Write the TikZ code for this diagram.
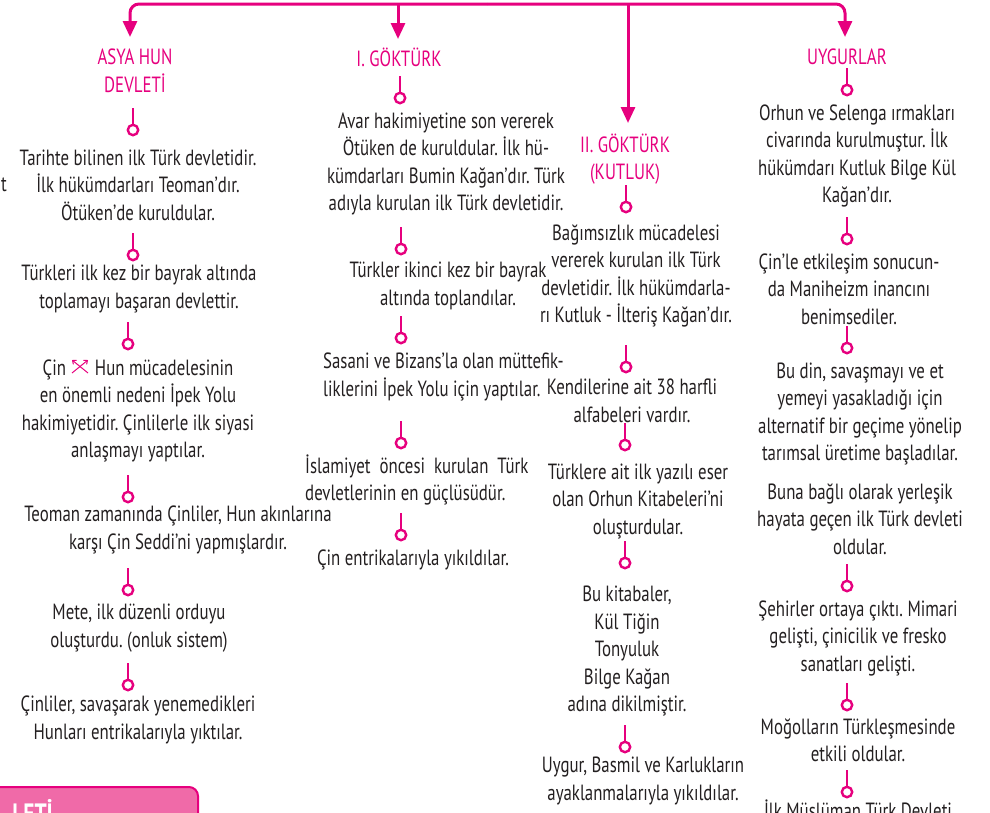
\documentclass[tikz,border=0pt]{standalone}
\usepackage{fontspec}
\setmainfont[FakeStretch=0.765]{PT Sans}
\usetikzlibrary{arrows.meta}
\definecolor{mag}{RGB}{230,0,126}
\definecolor{boxfill}{RGB}{240,106,168}
\definecolor{txt}{RGB}{35,31,32}
\newcommand\bodyfont{\fontsize{22}{27.5}\selectfont\frenchspacing}
\tikzset{
  body/.style={text=txt, align=center, font=\bodyfont, inner sep=0pt},
  bodyl/.style={text=txt, align=left, font=\bodyfont, inner sep=0pt},
  head/.style={text=mag, align=center, font=\bodyfont, inner sep=0pt},
  stem/.style={draw=mag, line width=2.6pt},
  bulb/.style={draw=mag, fill=white, line width=2.4pt},
  arr/.style={draw=mag, line width=3pt, -{Triangle[width=14pt,length=16pt]}},
  sym/.style={draw=mag, line width=1pt, -{Straight Barb[length=3pt,width=5pt]}},
  lol/.pic={\draw[stem] (0,-22) -- (0,-5); \draw[bulb] (0,0) circle[radius=5.2pt];}
}
\begin{document}
\begin{tikzpicture}[x=1pt,y=-1pt]
\useasboundingbox (0,0) rectangle (990,812);
\clip (0,0) rectangle (990,812);

% top bar and arrows
\coordinate (bar) at (487,4);
\coordinate (tip1) at (130,37);
\coordinate (tip2) at (398,39);
\coordinate (tip3) at (628,123);
\coordinate (tip4) at (845,37);
\draw[arr, rounded corners=9pt] (bar) -| (tip1);
\draw[arr, rounded corners=9pt] (bar) -| (tip4);
\draw[arr] (bar -| tip2) -- (tip2);
\draw[arr] (bar -| tip3) -- (tip3);

% headers
\node[head] (h1) at (135,71) {ASYA HUN\\DEVLETİ};
\node[head] (h2) at (399,57) {I. GÖKTÜRK};
\node[head] (h3) at (625,159) {II. GÖKTÜRK\\(KUTLUK)};
\node[head] (h4) at (847,57) {UYGURLAR};

% column 1
\node[body] (t) at (4,185) {t};
\node[body] (a1) at (138,185) {Tarihte bilinen ilk Türk devletidir.\\İlk hükümdarları Teoman’dır.\\Ötüken’de kuruldular.};
\node[body] (a2) at (139,289) {Türkleri ilk kez bir bayrak altında\\toplamayı başaran devlettir.};
\node[body] (a3) at (138,411) {Çin\hspace{29pt}Hun mücadelesinin\\en önemli nedeni İpek Yolu\\hakimiyetidir. Çinlilerle ilk siyasi\\anlaşmayı yaptılar.};
\node[body] (a4) at (178,530) {Teoman zamanında Çinliler, Hun akınlarına\\karşı Çin Seddi’ni yapmışlardır.};
\node[body] (a5) at (139,628) {Mete, ilk düzenli orduyu\\oluşturdu. (onluk sistem)};
\node[body] (a6) at (138,720) {Çinliler, savaşarak yenemedikleri\\Hunları entrikalarıyla yıktılar.};
\draw[sym] (72,373) -- (88,360);
\draw[sym] (88,373) -- (72,360);
\pic at (133,130) {lol};
\pic at (133,255) {lol};
\pic at (128,344) {lol};
\pic at (128,497) {lol};
\pic at (128,590) {lol};
\pic at (128,685) {lol};

% column 2
\node[body] (b1) at (446,164) {Avar hakimiyetine son vererek\\Ötüken de kuruldular. İlk hü-\\kümdarları Bumin Kağan’dır. Türk\\adıyla kurulan ilk Türk devletidir.};
\node[body] (b2) at (448,286) {Türkler ikinci kez bir bayrak\\altında toplandılar.};
\node[bodyl, anchor=west] (b3) at (323,377) {Sasani ve Bizans’la olan müttefik-\\liklerini İpek Yolu için yaptılar.};
\node[bodyl, anchor=west] (b4) at (305,480) {İslamiyet\ \ öncesi\ \ kurulan\ \ Türk\\devletlerinin en güçlüsüdür.};
\node[body] (b5) at (413,560) {Çin entrikalarıyla yıkıldılar.};
\pic at (400,98) {lol};
\pic at (401,249) {lol};
\pic at (401,338) {lol};
\pic at (401,443) {lol};
\pic at (401,535) {lol};

% column 3
\node[body] (c1) at (636,276) {Bağımsızlık mücadelesi\\vererek kurulan ilk Türk\\devletidir. İlk hükümdarla-\\rı Kutluk - İlteriş Kağan’dır.};
\node[body] (c2) at (632,401) {Kendilerine ait 38 harfli\\alfabeleri vardır.};
\node[body] (c3) at (638,501) {Türklere ait ilk yazılı eser\\olan Orhun Kitabeleri’ni\\oluşturdular.};
\node[body] (c4) at (627,651) {Bu kitabaler,\\Kül Tiğin\\Tonyuluk\\Bilge Kağan\\adına dikilmiştir.};
\node[body] (c5) at (643,781) {Uygur, Basmil ve Karlukların\\ayaklanmalarıyla yıkıldılar.};
\pic at (626,207) {lol};
\pic at (626,367) {lol};
\pic at (625,445) {lol};
\pic at (625,563) {lol};
\pic at (625,747) {lol};

% column 4
\node[body] (d1) at (857,156) {Orhun ve Selenga ırmakları\\civarında kurulmuştur. İlk\\hükümdarı Kutluk Bilge Kül\\Kağan’dır.};
\node[body] (d2) at (849,289) {Çin’le etkileşim sonucun-\\da Maniheizm inancını\\benimsediler.};
\node[body] (d3) at (860,414) {Bu din, savaşmayı ve et\\yemeyi yasakladığı için\\alternatif bir geçime yönelip\\tarımsal üretime başladılar.};
\node[body] (d4) at (860,519) {Buna bağlı olarak yerleşik\\hayata geçen ilk Türk devleti\\oldular.};
\node[body] (d5) at (858,638) {Şehirler ortaya çıktı. Mimari\\gelişti, çinicilik ve fresko\\sanatları gelişti.};
\node[body] (d6) at (858,740) {Moğolların Türkleşmesinde\\etkili oldular.};
\node[body, anchor=base] (d7) at (858,818) {İlk Müslüman Türk Devleti};
\pic at (847,90) {lol};
\pic at (847,239) {lol};
\pic at (847,348) {lol};
\pic at (847,586) {lol};
\pic at (847,705) {lol};
\pic at (847,792) {lol};

% bottom-left title box
\draw[draw=mag, fill=boxfill, line width=2pt, rounded corners=9pt] (-20,850) |- (198,787) -- (198,850);
\node[text=white, font=\bfseries\fontsize{28}{30}\selectfont, inner sep=0pt, anchor=base east] (lb) at (53,823) {LETİ};
\end{tikzpicture}
\end{document}
